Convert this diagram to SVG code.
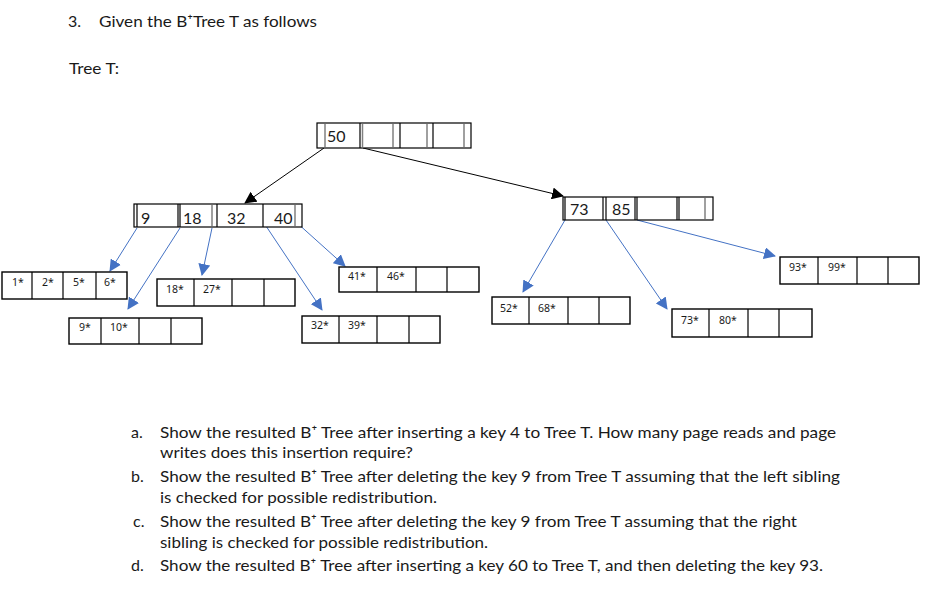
<svg xmlns="http://www.w3.org/2000/svg" width="942" height="597" viewBox="0 0 942 597">
<style>
.t{font-family:Lato,"Noto Sans","DejaVu Sans",sans-serif;fill:#1a1a1a;font-size:16px}
.k{font-family:Lato,"Noto Sans","DejaVu Sans",sans-serif;fill:#1a1a1a;font-size:16px}
.lk{font-family:"Noto Sans","DejaVu Sans",sans-serif;fill:#1a1a1a;font-size:10.5px}
.box{fill:#fff;stroke:#000;stroke-width:1.2}
.lbox{fill:#fff;stroke:#000;stroke-width:1.4}
.bl{stroke:#000;stroke-width:1.2}
.gl{stroke:#808080;stroke-width:1.5}
.blue{stroke:#4472C4;stroke-width:1;fill:none;marker-end:url(#ab)}
.blk{stroke:#000;stroke-width:1;fill:none;marker-end:url(#ak)}
</style>
<defs>
<marker id="ab" markerUnits="userSpaceOnUse" markerWidth="12" markerHeight="12" viewBox="0 0 12 12" refX="11" refY="6" orient="auto"><path d="M0,0 L12,6 L0,12 z" fill="#4472C4"/></marker>
<marker id="ak" markerUnits="userSpaceOnUse" markerWidth="12" markerHeight="12" viewBox="0 0 12 12" refX="11" refY="6" orient="auto"><path d="M0,0 L12,6 L0,12 z" fill="#000"/></marker>
</defs>
<rect width="942" height="597" fill="#fff"/>

<text class="t" x="68" y="27">3.</text>
<text class="t" x="99" y="27" textLength="218" lengthAdjust="spacingAndGlyphs">Given the B⁺Tree T as follows</text>
<text class="t" x="69" y="74" textLength="50" lengthAdjust="spacingAndGlyphs">Tree T:</text>

<g id="connectors">
<line class="blk" x1="324" y1="148" x2="245" y2="203"/>
<line class="blk" x1="363" y1="148" x2="563" y2="196"/>
<line class="blue" x1="137" y1="228" x2="110" y2="271"/>
<line class="blue" x1="180" y1="228" x2="128" y2="309"/>
<line class="blue" x1="212" y1="228" x2="202" y2="275"/>
<line class="blue" x1="254" y1="208" x2="322" y2="310"/>
<line class="blue" x1="296" y1="222" x2="345" y2="266"/>
<line class="blue" x1="565" y1="220" x2="523" y2="292"/>
<line class="blue" x1="606" y1="220" x2="667" y2="309"/>
<line class="blue" x1="637" y1="220" x2="775" y2="256"/>
</g>

<g id="root">
<rect class="box" x="317" y="123" width="154" height="25"/>
<line class="gl" x1="325" y1="124" x2="325" y2="147"/>
<line class="bl" x1="360" y1="123" x2="360" y2="148"/>
<line class="gl" x1="362.5" y1="124" x2="362.5" y2="147"/>
<line class="gl" x1="393" y1="124" x2="393" y2="147"/>
<line class="bl" x1="400" y1="123" x2="400" y2="148"/>
<line class="gl" x1="427" y1="124" x2="427" y2="147"/>
<line class="bl" x1="433" y1="123" x2="433" y2="148"/>
<line class="gl" x1="464" y1="124" x2="464" y2="147"/>
<text class="k" x="327" y="142">50</text>
</g>

<g id="internal-left">
<rect class="box" x="134" y="204" width="168" height="23"/>
<line class="bl" x1="137" y1="204" x2="137" y2="227"/>
<line class="bl" x1="178" y1="204" x2="178" y2="227"/>
<line class="bl" x1="180" y1="204" x2="180" y2="227"/>
<line class="gl" x1="212" y1="205" x2="212" y2="226"/>
<line class="bl" x1="217" y1="204" x2="217" y2="227"/>
<line class="bl" x1="263" y1="204" x2="263" y2="227"/>
<line class="gl" x1="295" y1="205" x2="295" y2="226"/>
<text class="k" x="141" y="224">9</text>
<text class="k" x="183" y="224">18</text>
<text class="k" x="227" y="224">32</text>
<text class="k" x="274" y="224">40</text>
</g>

<g id="internal-right">
<rect class="box" x="563" y="197" width="150" height="23"/>
<line class="bl" x1="565" y1="197" x2="565" y2="220"/>
<line class="bl" x1="603" y1="197" x2="603" y2="220"/>
<line class="bl" x1="606" y1="197" x2="606" y2="220"/>
<line class="bl" x1="635" y1="197" x2="635" y2="220"/>
<line class="bl" x1="637" y1="197" x2="637" y2="220"/>
<line class="bl" x1="677" y1="197" x2="677" y2="220"/>
<line class="bl" x1="679" y1="197" x2="679" y2="220"/>
<line class="gl" x1="705" y1="198" x2="705" y2="219"/>
<text class="k" x="570" y="215">73</text>
<text class="k" x="612" y="215">85</text>
</g>

<g id="leaf-1">
<rect class="lbox" x="2" y="272" width="125" height="27"/>
<line class="bl" x1="32" y1="272" x2="32" y2="299"/>
<line class="bl" x1="63" y1="272" x2="63" y2="299"/>
<line class="bl" x1="96" y1="272" x2="96" y2="299"/>
<text class="lk" x="12" y="286">1*</text>
<text class="lk" x="42" y="286">2*</text>
<text class="lk" x="73" y="286">5*</text>
<text class="lk" x="104" y="286">6*</text>
</g>

<g id="leaf-9">
<rect class="lbox" x="69" y="318" width="133" height="26"/>
<line class="bl" x1="101" y1="318" x2="101" y2="344"/>
<line class="bl" x1="139" y1="318" x2="139" y2="344"/>
<line class="bl" x1="171" y1="318" x2="171" y2="344"/>
<text class="lk" x="79" y="331">9*</text>
<text class="lk" x="110" y="331">10*</text>
</g>

<g id="leaf-18">
<rect class="lbox" x="157" y="279" width="138" height="27"/>
<line class="bl" x1="194" y1="279" x2="194" y2="306"/>
<line class="bl" x1="232" y1="279" x2="232" y2="306"/>
<line class="bl" x1="264" y1="279" x2="264" y2="306"/>
<text class="lk" x="166" y="293">18*</text>
<text class="lk" x="203" y="293">27*</text>
</g>

<g id="leaf-32">
<rect class="lbox" x="302" y="316" width="138" height="27"/>
<line class="bl" x1="339" y1="316" x2="339" y2="343"/>
<line class="bl" x1="377" y1="316" x2="377" y2="343"/>
<line class="bl" x1="409" y1="316" x2="409" y2="343"/>
<text class="lk" x="311" y="329">32*</text>
<text class="lk" x="348" y="329">39*</text>
</g>

<g id="leaf-41">
<rect class="lbox" x="339" y="267" width="140" height="25"/>
<line class="bl" x1="377" y1="267" x2="377" y2="292"/>
<line class="bl" x1="416" y1="267" x2="416" y2="292"/>
<line class="bl" x1="447" y1="267" x2="447" y2="292"/>
<text class="lk" x="348" y="280">41*</text>
<text class="lk" x="387" y="280">46*</text>
</g>

<g id="leaf-52">
<rect class="lbox" x="492" y="297" width="138" height="27"/>
<line class="bl" x1="529" y1="297" x2="529" y2="324"/>
<line class="bl" x1="568" y1="297" x2="568" y2="324"/>
<line class="bl" x1="599" y1="297" x2="599" y2="324"/>
<text class="lk" x="500" y="312">52*</text>
<text class="lk" x="538" y="312">68*</text>
</g>

<g id="leaf-73">
<rect class="lbox" x="672" y="309" width="140" height="28"/>
<line class="bl" x1="709" y1="309" x2="709" y2="337"/>
<line class="bl" x1="748" y1="309" x2="748" y2="337"/>
<line class="bl" x1="779" y1="309" x2="779" y2="337"/>
<text class="lk" x="681" y="324">73*</text>
<text class="lk" x="719" y="324">80*</text>
</g>

<g id="leaf-93">
<rect class="lbox" x="780" y="257" width="139" height="27"/>
<line class="bl" x1="818" y1="257" x2="818" y2="284"/>
<line class="bl" x1="857" y1="257" x2="857" y2="284"/>
<line class="bl" x1="888" y1="257" x2="888" y2="284"/>
<text class="lk" x="789" y="271">93*</text>
<text class="lk" x="828" y="271">99*</text>
</g>

<g id="questions">
<text class="t" x="131" y="438">a.</text>
<text class="t" x="160" y="438" textLength="676" lengthAdjust="spacingAndGlyphs">Show the resulted B⁺ Tree after inserting a key 4 to Tree T. How many page reads and page</text>
<text class="t" x="160" y="458" textLength="253" lengthAdjust="spacingAndGlyphs">writes does this insertion require?</text>
<text class="t" x="131" y="482">b.</text>
<text class="t" x="160" y="482" textLength="680" lengthAdjust="spacingAndGlyphs">Show the resulted B⁺ Tree after deleting the key 9 from Tree T assuming that the left sibling</text>
<text class="t" x="160" y="503" textLength="277" lengthAdjust="spacingAndGlyphs">is checked for possible redistribution.</text>
<text class="t" x="133" y="527">c.</text>
<text class="t" x="160" y="527" textLength="637" lengthAdjust="spacingAndGlyphs">Show the resulted B⁺ Tree after deleting the key 9 from Tree T assuming that the right</text>
<text class="t" x="160" y="548" textLength="328" lengthAdjust="spacingAndGlyphs">sibling is checked for possible redistribution.</text>
<text class="t" x="131" y="571">d.</text>
<text class="t" x="160" y="571" textLength="663" lengthAdjust="spacingAndGlyphs">Show the resulted B⁺ Tree after inserting a key 60 to Tree T, and then deleting the key 93.</text>
</g>
</svg>
